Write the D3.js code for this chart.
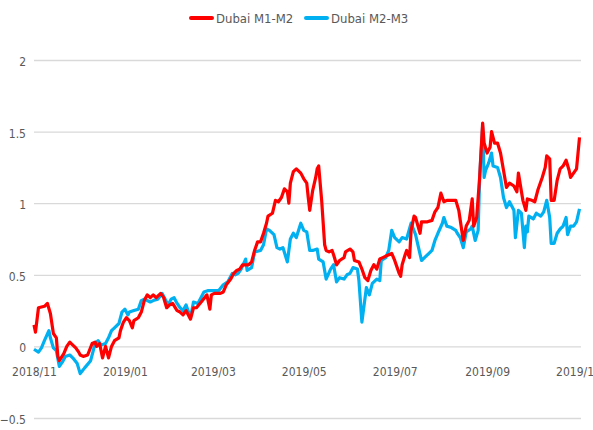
<!DOCTYPE html>
<html>
<head>
<meta charset="utf-8">
<script src="https://cdn.jsdelivr.net/npm/d3@7"></script>
<style>
    html, body { margin: 0; padding: 0; background: #ffffff; }
    #chart { width: 593px; height: 430px; overflow: hidden; }
    text { font-family: "DejaVu Sans Condensed", "Liberation Sans Narrow", "Roboto", sans-serif; fill: #595959; }
</style>
</head>
<body>
<div id="chart"></div>
<script>
// series names
let seriesNames = ["Dubai M1-M2", "Dubai M2-M3"];
let seriesColors = ["#ff0000", "#00b0f0"];

// y axis ticks
let yTicks = [-0.5, 0, 0.5, 1, 1.5, 2];
// x axis ticks (every two months)
let xTickDates = ["2018-11-01", "2019-01-01", "2019-03-01", "2019-05-01", "2019-07-01", "2019-09-01", "2019-11-01"];

// Dubai M1-M2 spread
let m1m2 = [
    ["2018-11-01", 0.15], ["2018-11-02", 0.10], ["2018-11-04", 0.27], ["2018-11-08", 0.28], ["2018-11-10", 0.30],
    ["2018-11-12", 0.23], ["2018-11-14", 0.09], ["2018-11-16", 0.06], ["2018-11-17", -0.07], ["2018-11-18", -0.10],
    ["2018-11-21", -0.05], ["2018-11-23", 0.00], ["2018-11-25", 0.03], ["2018-11-26", 0.02], ["2018-11-29", -0.01],
    ["2018-12-01", -0.04], ["2018-12-02", -0.06], ["2018-12-04", -0.07], ["2018-12-07", -0.06], ["2018-12-10", 0.02],
    ["2018-12-12", 0.03], ["2018-12-13", 0.00], ["2018-12-15", 0.02], ["2018-12-17", -0.08], ["2018-12-19", 0.00],
    ["2018-12-21", -0.08], ["2018-12-23", 0.00], ["2018-12-25", 0.04], ["2018-12-28", 0.06], ["2018-12-29", 0.11],
    ["2018-12-31", 0.17], ["2019-01-02", 0.20], ["2019-01-04", 0.18], ["2019-01-06", 0.13], ["2019-01-07", 0.18],
    ["2019-01-10", 0.20], ["2019-01-12", 0.24], ["2019-01-14", 0.32], ["2019-01-16", 0.36], ["2019-01-18", 0.34],
    ["2019-01-20", 0.36], ["2019-01-22", 0.34], ["2019-01-25", 0.37], ["2019-01-27", 0.34], ["2019-01-29", 0.27],
    ["2019-01-31", 0.29], ["2019-02-02", 0.30], ["2019-02-05", 0.25], ["2019-02-07", 0.24], ["2019-02-09", 0.22],
    ["2019-02-11", 0.25], ["2019-02-14", 0.19], ["2019-02-16", 0.27], ["2019-02-18", 0.27], ["2019-02-22", 0.32],
    ["2019-02-25", 0.36], ["2019-02-27", 0.26], ["2019-02-28", 0.36], ["2019-03-02", 0.37], ["2019-03-06", 0.37],
    ["2019-03-08", 0.38], ["2019-03-10", 0.43], ["2019-03-13", 0.47], ["2019-03-15", 0.51], ["2019-03-17", 0.53],
    ["2019-03-19", 0.54], ["2019-03-21", 0.57], ["2019-03-25", 0.57], ["2019-03-27", 0.59], ["2019-03-29", 0.67],
    ["2019-03-31", 0.73], ["2019-04-02", 0.73], ["2019-04-04", 0.79], ["2019-04-06", 0.86], ["2019-04-07", 0.91],
    ["2019-04-10", 0.93], ["2019-04-12", 1.02], ["2019-04-14", 1.01], ["2019-04-16", 1.04], ["2019-04-18", 1.10],
    ["2019-04-20", 1.08], ["2019-04-21", 1.00], ["2019-04-22", 1.14], ["2019-04-24", 1.22], ["2019-04-26", 1.24],
    ["2019-04-29", 1.21], ["2019-05-01", 1.17], ["2019-05-03", 1.14], ["2019-05-04", 1.04], ["2019-05-05", 0.95],
    ["2019-05-07", 1.09], ["2019-05-09", 1.18], ["2019-05-10", 1.24], ["2019-05-11", 1.26], ["2019-05-13", 1.02],
    ["2019-05-15", 0.71], ["2019-05-16", 0.67], ["2019-05-18", 0.66], ["2019-05-20", 0.67], ["2019-05-21", 0.64],
    ["2019-05-23", 0.57], ["2019-05-25", 0.60], ["2019-05-28", 0.62], ["2019-05-29", 0.66], ["2019-06-01", 0.68],
    ["2019-06-03", 0.66], ["2019-06-04", 0.60], ["2019-06-07", 0.59], ["2019-06-09", 0.54], ["2019-06-11", 0.48],
    ["2019-06-13", 0.46], ["2019-06-15", 0.53], ["2019-06-17", 0.57], ["2019-06-19", 0.54], ["2019-06-21", 0.61],
    ["2019-06-23", 0.62], ["2019-06-27", 0.64], ["2019-06-29", 0.65], ["2019-07-01", 0.60], ["2019-07-04", 0.51],
    ["2019-07-05", 0.49], ["2019-07-06", 0.57], ["2019-07-08", 0.64], ["2019-07-09", 0.67], ["2019-07-11", 0.62],
    ["2019-07-12", 0.81], ["2019-07-14", 0.91], ["2019-07-15", 0.90], ["2019-07-18", 0.79], ["2019-07-19", 0.87],
    ["2019-07-23", 0.87], ["2019-07-26", 0.88], ["2019-07-28", 0.94], ["2019-07-30", 0.97], ["2019-08-01", 1.07],
    ["2019-08-03", 1.01], ["2019-08-05", 1.02], ["2019-08-07", 1.02], ["2019-08-11", 1.02], ["2019-08-13", 0.95],
    ["2019-08-15", 0.81], ["2019-08-16", 0.74], ["2019-08-18", 0.84], ["2019-08-20", 0.88], ["2019-08-22", 1.03],
    ["2019-08-23", 0.84], ["2019-08-25", 0.90], ["2019-08-27", 1.18], ["2019-08-29", 1.56], ["2019-08-30", 1.42],
    ["2019-09-01", 1.35], ["2019-09-03", 1.39], ["2019-09-04", 1.50], ["2019-09-06", 1.42], ["2019-09-08", 1.42],
    ["2019-09-10", 1.35], ["2019-09-12", 1.23], ["2019-09-14", 1.11], ["2019-09-16", 1.14], ["2019-09-19", 1.12],
    ["2019-09-21", 1.08], ["2019-09-22", 1.21], ["2019-09-25", 1.02], ["2019-09-27", 0.95], ["2019-09-28", 1.03],
    ["2019-10-01", 1.02], ["2019-10-03", 1.01], ["2019-10-05", 1.09], ["2019-10-08", 1.18], ["2019-10-10", 1.25],
    ["2019-10-11", 1.33], ["2019-10-13", 1.31], ["2019-10-14", 1.02], ["2019-10-16", 1.02], ["2019-10-18", 1.16],
    ["2019-10-20", 1.24], ["2019-10-22", 1.26], ["2019-10-24", 1.30], ["2019-10-26", 1.23], ["2019-10-27", 1.18],
    ["2019-10-29", 1.21], ["2019-10-31", 1.24], ["2019-11-02", 1.46]
];

// Dubai M2-M3 spread
let m2m3 = [
    ["2018-11-01", -0.02], ["2018-11-04", -0.04], ["2018-11-06", -0.01], ["2018-11-08", 0.04], ["2018-11-11", 0.11],
    ["2018-11-12", 0.06], ["2018-11-14", -0.01], ["2018-11-16", -0.03], ["2018-11-18", -0.14], ["2018-11-20", -0.11],
    ["2018-11-22", -0.07], ["2018-11-25", -0.06], ["2018-11-27", -0.08], ["2018-11-30", -0.12], ["2018-12-02", -0.19],
    ["2018-12-05", -0.15], ["2018-12-09", -0.10], ["2018-12-12", 0.02], ["2018-12-14", 0.04], ["2018-12-16", 0.01],
    ["2018-12-19", 0.02], ["2018-12-21", 0.06], ["2018-12-23", 0.11], ["2018-12-25", 0.13], ["2018-12-28", 0.16],
    ["2018-12-30", 0.24], ["2019-01-01", 0.26], ["2019-01-03", 0.22], ["2019-01-04", 0.24], ["2019-01-07", 0.25],
    ["2019-01-10", 0.26], ["2019-01-12", 0.32], ["2019-01-14", 0.33], ["2019-01-18", 0.31], ["2019-01-20", 0.32],
    ["2019-01-23", 0.33], ["2019-01-26", 0.37], ["2019-01-28", 0.33], ["2019-01-30", 0.29], ["2019-02-01", 0.33],
    ["2019-02-03", 0.34], ["2019-02-05", 0.30], ["2019-02-07", 0.27], ["2019-02-09", 0.25], ["2019-02-11", 0.29],
    ["2019-02-14", 0.20], ["2019-02-16", 0.31], ["2019-02-19", 0.30], ["2019-02-23", 0.38], ["2019-02-26", 0.39],
    ["2019-03-01", 0.39], ["2019-03-05", 0.39], ["2019-03-08", 0.43], ["2019-03-11", 0.45], ["2019-03-14", 0.51],
    ["2019-03-16", 0.50], ["2019-03-18", 0.51], ["2019-03-20", 0.54], ["2019-03-23", 0.61], ["2019-03-24", 0.53],
    ["2019-03-27", 0.55], ["2019-03-29", 0.66], ["2019-04-02", 0.67], ["2019-04-04", 0.71], ["2019-04-06", 0.82],
    ["2019-04-08", 0.81], ["2019-04-11", 0.78], ["2019-04-13", 0.69], ["2019-04-15", 0.68], ["2019-04-17", 0.69],
    ["2019-04-20", 0.59], ["2019-04-22", 0.75], ["2019-04-24", 0.79], ["2019-04-26", 0.76], ["2019-04-29", 0.86],
    ["2019-05-01", 0.81], ["2019-05-03", 0.80], ["2019-05-05", 0.67], ["2019-05-07", 0.67], ["2019-05-10", 0.68],
    ["2019-05-11", 0.61], ["2019-05-14", 0.59], ["2019-05-16", 0.47], ["2019-05-19", 0.54], ["2019-05-21", 0.57],
    ["2019-05-23", 0.45], ["2019-05-25", 0.48], ["2019-05-28", 0.47], ["2019-05-30", 0.50], ["2019-06-01", 0.51],
    ["2019-06-03", 0.55], ["2019-06-06", 0.54], ["2019-06-07", 0.46], ["2019-06-09", 0.17], ["2019-06-10", 0.25],
    ["2019-06-12", 0.41], ["2019-06-14", 0.36], ["2019-06-16", 0.44], ["2019-06-19", 0.47], ["2019-06-21", 0.46],
    ["2019-06-22", 0.60], ["2019-06-25", 0.62], ["2019-06-27", 0.67], ["2019-06-29", 0.81], ["2019-07-01", 0.76],
    ["2019-07-04", 0.73], ["2019-07-06", 0.76], ["2019-07-09", 0.75], ["2019-07-12", 0.86], ["2019-07-15", 0.78],
    ["2019-07-17", 0.69], ["2019-07-19", 0.60], ["2019-07-21", 0.62], ["2019-07-24", 0.65], ["2019-07-26", 0.67],
    ["2019-07-28", 0.74], ["2019-07-30", 0.79], ["2019-08-02", 0.86], ["2019-08-03", 0.90], ["2019-08-05", 0.84],
    ["2019-08-08", 0.83], ["2019-08-11", 0.81], ["2019-08-12", 0.79], ["2019-08-14", 0.76], ["2019-08-16", 0.69],
    ["2019-08-18", 0.80], ["2019-08-21", 0.82], ["2019-08-22", 0.84], ["2019-08-24", 0.74], ["2019-08-26", 0.81],
    ["2019-08-27", 1.18], ["2019-08-29", 1.54], ["2019-08-30", 1.18], ["2019-08-31", 1.23], ["2019-09-02", 1.28],
    ["2019-09-04", 1.35], ["2019-09-05", 1.26], ["2019-09-08", 1.25], ["2019-09-10", 1.18], ["2019-09-12", 1.04],
    ["2019-09-14", 0.97], ["2019-09-16", 1.01], ["2019-09-19", 0.95], ["2019-09-20", 0.76], ["2019-09-22", 0.95],
    ["2019-09-24", 0.93], ["2019-09-26", 0.69], ["2019-09-27", 0.84], ["2019-09-28", 0.80], ["2019-09-29", 0.91],
    ["2019-10-02", 0.89], ["2019-10-04", 0.93], ["2019-10-07", 0.91], ["2019-10-09", 0.94], ["2019-10-11", 1.02],
    ["2019-10-13", 0.90], ["2019-10-14", 0.72], ["2019-10-16", 0.72], ["2019-10-18", 0.79], ["2019-10-20", 0.82],
    ["2019-10-22", 0.84], ["2019-10-24", 0.90], ["2019-10-25", 0.78], ["2019-10-27", 0.84], ["2019-10-29", 0.84],
    ["2019-10-31", 0.87], ["2019-11-02", 0.96]
];

let width = 593;
let height = 430;
let plot = { left: 34, right: 581, top: 60, bottom: 418 };
let parseDate = d3.timeParse("%Y-%m-%d");
let fontSize = 12;

//=================================================
// Create svg
//=================================================
let svg = d3.select("#chart")
    .append("svg")
    .attr("width", width)
    .attr("height", height);

//=================================================
// Scales
//=================================================
let scaleX = d3.scaleTime()
    .domain([parseDate("2018-11-01"), parseDate("2019-11-03")])
    .range([plot.left, plot.right]);

let scaleY = d3.scaleLinear()
    .domain([-0.5, 2])
    .range([plot.bottom, plot.top]);

//=================================================
// Y axis (gridlines + labels, no axis line)
//=================================================
let axisY = svg.append("g")
    .attr("transform", "translate(" + plot.left + ",0)")
    .call(d3.axisLeft(scaleY)
        .tickValues(yTicks)
        .tickSize(-(plot.right - plot.left))
        .tickPadding(8)
        .tickFormat(d3.format("")));
axisY.select(".domain").remove();
axisY.selectAll(".tick line")
    .attr("stroke", "#d9d9d9")
    .attr("stroke-width", 1.3);
axisY.selectAll(".tick text")
    .attr("font-family", null)
    .attr("font-size", fontSize)
    .attr("dy", "0.45em")
    .style("fill", "#595959");

//=================================================
// X axis labels (sit below the zero line)
//=================================================
let axisX = svg.append("g")
    .attr("transform", "translate(0," + scaleY(0) + ")")
    .call(d3.axisBottom(scaleX)
        .tickValues(xTickDates.map(parseDate))
        .tickSize(0)
        .tickPadding(21)
        .tickFormat(d3.timeFormat("%Y/%m")));
axisX.select(".domain").remove();
axisX.selectAll(".tick text")
    .attr("font-family", null)
    .attr("font-size", fontSize)
    .style("fill", "#595959");

//=================================================
// Series lines
//=================================================
let line = d3.line()
    .x(function (d) { return scaleX(parseDate(d[0])); })
    .y(function (d) { return scaleY(d[1]); });

let allSeries = [m1m2, m2m3];
for (let i = allSeries.length - 1; i >= 0; i--) {
    svg.append("path")
        .datum(allSeries[i])
        .attr("fill", "none")
        .attr("stroke", seriesColors[i])
        .attr("stroke-width", 3.2)
        .attr("stroke-linejoin", "round")
        .attr("d", line);
}

//=================================================
// Legend
//=================================================
let legendX = [190, 305];
let legend = svg.append("g");
for (let i in seriesNames) {
    let item = legend.append("g")
        .attr("transform", "translate(" + legendX[i] + ",18)");
    item.append("line")
        .attr("x1", 1).attr("x2", 22)
        .attr("y1", 0).attr("y2", 0)
        .attr("stroke", seriesColors[i])
        .attr("stroke-width", 4)
        .attr("stroke-linecap", "round");
    item.append("text")
        .attr("x", 26)
        .attr("y", 5)
        .attr("font-size", 13)
        .text(seriesNames[i]);
}
</script>
</body>
</html>
